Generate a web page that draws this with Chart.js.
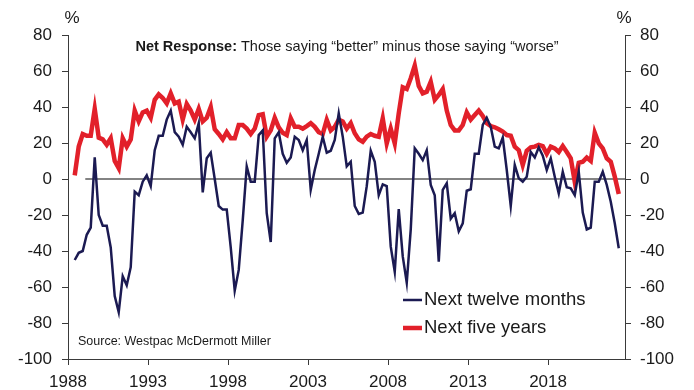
<!DOCTYPE html>
<html>
<head>
<meta charset="utf-8">
<script src="https://cdn.jsdelivr.net/npm/chart.js@4"></script>
<style>
  body { margin: 0; background: #fff; }
</style>
</head>
<body>
<canvas id="chart" width="694" height="390"></canvas>
<script>
// quarterly survey, first quarter plotted at 1988.42
const startYear = 1988.42;
const yearTicks = [1988, 1993, 1998, 2003, 2008, 2013, 2018];
const yTicks = [-100, -80, -60, -40, -20, 0, 20, 40, 60, 80];

const nextTwelveMonths = [
  -45, -41, -40, -31, -27, 12, -20, -26, -26, -38, -65, -74, -54, -59, -49, -7,
  -9, -1.5, 2, -4, 16, 24, 24, 33, 38, 26, 23.5, 19, 29, 26, 22.6, 31,
  -7.4, 11.5, 14.6, 0, -15, -17, -17, -38, -62, -50.5, -23, 7, -1.5, -1.5, 24.4, 27,
  -19, -35, 22.6, 26, 14, 9, 12, 23.5, 21.7, 16, 21.7, -6, 5, 14, 23.5, 14.6,
  15.7, 21.7, 36.5, 23.5, 7, 9.6, -15, -19.4, -18.7, -4, 15.7, 9.6, -9, -3, -4, -37.6,
  -51.5, -16.7, -43, -57.6, -28, 17, 14, 10.5, 16, -3.3, -9, -46, -6, -2.4, -22, -19,
  -29, -24.6, -6.5, -5.7, 14, 14, 30, 34, 29, 18, 17, 23, 5, -15, 7.8, 0.4,
  -1.5, 1.3, 15, 12, 17.6, 13, 5, 11.5, 1.3, -8, 4, -4.6, -5.2, -9, 4, -18.7,
  -28, -27, -1.5, -1.5, 4, -3.3, -12.6, -24.6, -38.5
];

const nextFiveYears = [
  2, 18, 25, 24, 24, 39, 23, 22, 19, 22.6, 10, 6, 22.6, 18, 22, 38,
  32, 37, 38, 34, 44, 47, 45, 42, 47.6, 42, 43, 33, 41.7, 38, 33, 39,
  32, 34, 40, 27.6, 25, 22, 26, 22.6, 22.6, 30, 30, 28, 25, 28, 35.5, 36,
  23.5, 27, 34, 28.7, 25.7, 24.4, 33.7, 29, 29, 28, 29.4, 31, 29, 26, 25, 32.8,
  27, 29, 33, 32, 28, 31, 25.4, 22, 20.7, 23.5, 25, 24, 23.5, 33.7, 19.8, 28,
  19.8, 36.5, 51, 50, 56, 63, 51.7, 47.6, 48.5, 54, 44, 46.7, 50, 38, 30, 27,
  27, 30, 37, 33, 35.5, 38, 35, 31, 29.4, 28.7, 27.6, 26.3, 24.4, 24, 18, 16,
  7.8, 15.7, 17.6, 18, 19, 18.3, 14, 18, 17, 15, 18.3, 15, 11.5, -1.5, 9, 9.6,
  11.9, 10, 25.7, 19.8, 17, 11.5, 9.6, 1.3, -8.3
];

const zeroLine = [{ x: 1989.08, y: 0 }, { x: 2022.81, y: 0 }];

const navy = '#1b1a52';
const red = '#e2202a';
const axisColor = '#3a3a3a';
const textColor = '#1a1a1a';
const fontFamily = "'Liberation Sans', Arial, sans-serif";

const toPoints = arr => arr.map((v, i) => ({ x: startYear + i * 0.25, y: v }));

const annotations = {
  id: 'annotations',
  afterDraw(chart) {
    const ctx = chart.ctx;
    ctx.save();
    ctx.fillStyle = textColor;
    ctx.textBaseline = 'middle';

    // % unit labels
    ctx.font = '17px ' + fontFamily;
    ctx.textAlign = 'center';
    ctx.fillText('%', 72, 18);
    ctx.fillText('%', 624, 18);

    // title
    ctx.textAlign = 'left';
    const boldPart = 'Net Response:';
    const rest = ' Those saying \u201cbetter\u201d minus those saying \u201cworse\u201d';
    ctx.font = 'bold 14.5px ' + fontFamily;
    const w1 = ctx.measureText(boldPart).width;
    ctx.font = '14.5px ' + fontFamily;
    const w2 = ctx.measureText(rest).width;
    let x0 = 347 - (w1 + w2) / 2;
    ctx.font = 'bold 14.5px ' + fontFamily;
    ctx.fillText(boldPart, x0, 47);
    ctx.font = '14.5px ' + fontFamily;
    ctx.fillText(rest, x0 + w1, 47);

    // source
    ctx.font = '12.5px ' + fontFamily;
    ctx.fillText('Source: Westpac McDermott Miller', 78, 342);

    // legend
    const items = [
      { label: 'Next twelve months', color: navy, width: 2.5, y: 300 },
      { label: 'Next five years', color: red, width: 4.5, y: 328 }
    ];
    ctx.font = '18.5px ' + fontFamily;
    items.forEach(it => {
      ctx.strokeStyle = it.color;
      ctx.lineWidth = it.width;
      ctx.beginPath();
      ctx.moveTo(403, it.y);
      ctx.lineTo(422, it.y);
      ctx.stroke();
      ctx.fillText(it.label, 424, it.y);
    });
    ctx.restore();
  }
};

const yAxis = (position, width, padding) => ({
  type: 'linear',
  position: position,
  min: -100,
  max: 80,
  afterBuildTicks: s => { s.ticks = yTicks.map(v => ({ value: v })); },
  afterFit: s => { s.width = width; },
  grid: { drawOnChartArea: false, drawTicks: true, tickLength: 6, color: axisColor },
  border: { display: true, color: axisColor, width: 1 },
  ticks: { color: textColor, padding: padding, font: { size: 17, family: fontFamily } }
});

new Chart(document.getElementById('chart'), {
  type: 'line',
  data: {
    datasets: [
      {
        label: 'Next twelve months',
        data: toPoints(nextTwelveMonths),
        borderColor: navy,
        borderWidth: 2.5,
        pointRadius: 0,
        tension: 0,
        yAxisID: 'y'
      },
      {
        label: 'Next five years',
        data: toPoints(nextFiveYears),
        borderColor: red,
        borderWidth: 4.5,
        pointRadius: 0,
        tension: 0,
        yAxisID: 'y'
      },
      {
        label: 'zero',
        data: zeroLine,
        borderColor: '#5a5a5a',
        borderWidth: 1.5,
        pointRadius: 0,
        yAxisID: 'y'
      }
    ]
  },
  options: {
    responsive: false,
    animation: false,
    devicePixelRatio: 1,
    layout: { padding: { top: 35, left: 0, right: 0, bottom: 0 } },
    plugins: {
      legend: { display: false },
      tooltip: { enabled: false }
    },
    scales: {
      x: {
        type: 'linear',
        min: 1988,
        max: 2022.81,
        afterBuildTicks: s => { s.ticks = yearTicks.map(v => ({ value: v })); },
        afterFit: s => { s.height = 31; },
        grid: { drawOnChartArea: false, drawTicks: true, tickLength: 6, color: axisColor },
        border: { display: true, color: axisColor, width: 1 },
        ticks: {
          color: textColor,
          padding: 7,
          maxRotation: 0,
          autoSkip: false,
          font: { size: 17, family: fontFamily },
          callback: v => String(v)
        }
      },
      y: yAxis('left', 68, 10),
      y2: yAxis('right', 69, 9)
    }
  },
  plugins: [annotations]
});
</script>
</body>
</html>
